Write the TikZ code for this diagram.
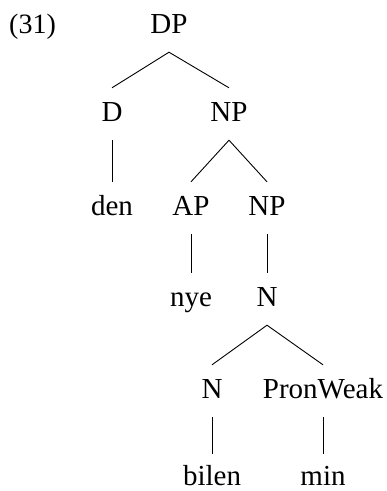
\documentclass[tikz,border=0pt]{standalone}
\usepackage{fontspec}
\setmainfont{Liberation Serif}
\begin{document}
\begin{tikzpicture}[x=1pt,y=-1pt,
  cat/.style={anchor=base,inner xsep=0pt,inner ysep=15pt,text height=18pt,text depth=4pt,font=\fontsize{29}{34}\selectfont},
  leaf/.style={cat,inner ysep=0pt,text height=31pt,text depth=0pt},
  edge/.style={draw=black,line width=0.9pt}]
\useasboundingbox (0,0) rectangle (387,491);
\node[anchor=base west,inner sep=0pt,font=\fontsize{28}{32}\selectfont] (ex) at (9,33) {(31)};
\node[cat] (dp) at (169,33) {DP};
\node[cat] (d) at (112,121) {D};
\node[cat] (np1) at (229,121) {NP};
\node[cat] (den) at (112,215) {den};
\node[cat] (ap) at (191,215) {AP};
\node[cat] (np2) at (267,215) {NP};
\node[cat] (nye) at (191,306) {nye};
\node[cat] (n1) at (267,306) {N};
\node[cat] (n2) at (212,398) {N};
\node[cat] (pw) at (323,398) {PronWeak};
\node[leaf] (bilen) at (212,485) {bilen};
\node[leaf] (min) at (323,485) {min};
\draw[edge] (d.north) -- (dp.south) -- (np1.north);
\draw[edge] (d.south) -- (den.north);
\draw[edge] (ap.north) -- (np1.south) -- (np2.north);
\draw[edge] (ap.south) -- (nye.north);
\draw[edge] (np2.south) -- (n1.north);
\draw[edge] (n2.north) -- (n1.south) -- (pw.north);
\draw[edge] (n2.south) -- (bilen.north);
\draw[edge] (pw.south) -- (min.north);
\end{tikzpicture}
\end{document}
